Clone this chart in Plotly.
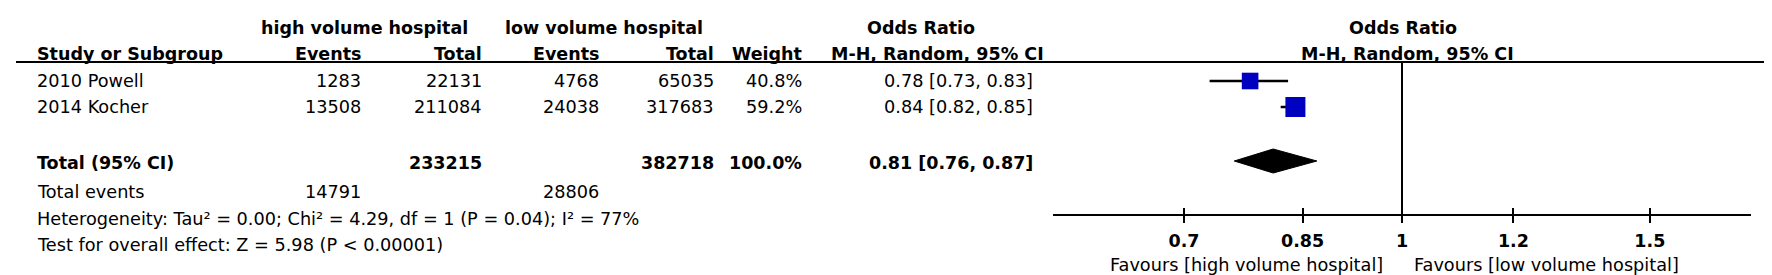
import math
import plotly.graph_objects as go

# ---------------- data ----------------
studies = ["2010 Powell", "2014 Kocher"]
hv_events = [1283, 13508]
hv_total = [22131, 211084]
lv_events = [4768, 24038]
lv_total = [65035, 317683]
weights = [40.8, 59.2]
or_est = [0.78, 0.84]
or_lo = [0.73, 0.82]
or_hi = [0.83, 0.85]

total_label = "Total (95% CI)"
total_hv = 233215
total_lv = 382718
total_weight = 100.0
total_or = 0.81
total_lo = 0.76
total_hi = 0.87
events_label = "Total events"
events_hv = 14791
events_lv = 28806
heterogeneity = "Heterogeneity: Tau² = 0.00; Chi² = 4.29, df = 1 (P = 0.04); I² = 77%"
overall = "Test for overall effect: Z = 5.98 (P < 0.00001)"

group1 = "high volume hospital"
group2 = "low volume hospital"
col_headers = ["Study or Subgroup", "Events", "Total", "Events", "Total", "Weight",
               "M-H, Random, 95% CI"]
tick_vals = [0.7, 0.85, 1, 1.2, 1.5]
tick_text = ["0.7", "0.85", "1", "1.2", "1.5"]
axis_range = [0.565, 1.77]
favours_left = "Favours [high volume hospital]"
favours_right = "Favours [low volume hospital]"

# ---------------- layout constants (pixels) ----------------
W, H = 1772, 275
FONT = "DejaVu Sans"
FS = 17.7
FSB = 17.5
Y_H1, Y_H2, Y_LINE = 20, 46, 54
Y_ROWS = [73, 99]
Y_TOT, Y_EV, Y_HET, Y_TEST = 155, 184, 211, 237
Y_AXIS = 207
X_STUDY, X_HVE, X_HVT, X_LVE, X_LVT, X_W, X_OR = 27, 355, 476, 593, 708, 796, 1027
X_AX0, X_AX1 = 1045, 1743
X_LINE0, X_LINE1 = 8, 1757
SQ_K = 20 / math.sqrt(59.2)
DIAMOND_H = 12
BLUE = "#0000c0"

fig = go.Figure()
ann = []


def txt(x, y, s, anchor="left", bold=False):
    ann.append(dict(
        x=x / W, y=y, xref="paper", yref="y", text=("<b>%s</b>" % s) if bold else s,
        showarrow=False, xanchor=anchor, yanchor="middle",
        font=dict(family=FONT, size=FSB if bold else FS, color="black")))


# headers
txt(356, Y_H1, group1, "center", True)
txt(596, Y_H1, group2, "center", True)
txt(913, Y_H1, "Odds Ratio", "center", True)
txt(1395, Y_H1, "Odds Ratio", "center", True)
txt(X_STUDY, Y_H2, col_headers[0], "left", True)
for x, h in zip([X_HVE, X_HVT, X_LVE, X_LVT, X_W], col_headers[1:6]):
    txt(x, Y_H2, h, "right", True)
txt(929, Y_H2, col_headers[6], "center", True)
txt(1399, Y_H2, col_headers[6], "center", True)

# study rows
for i, s in enumerate(studies):
    y = Y_ROWS[i]
    txt(X_STUDY, y, s)
    txt(X_HVE, y, str(hv_events[i]), "right")
    txt(X_HVT, y, str(hv_total[i]), "right")
    txt(X_LVE, y, str(lv_events[i]), "right")
    txt(X_LVT, y, str(lv_total[i]), "right")
    txt(X_W, y, "%.1f%%" % weights[i], "right")
    txt(X_OR, y, "%.2f [%.2f, %.2f]" % (or_est[i], or_lo[i], or_hi[i]), "right")

# total rows
txt(X_STUDY, Y_TOT, total_label, "left", True)
txt(X_HVT, Y_TOT, str(total_hv), "right", True)
txt(X_LVT, Y_TOT, str(total_lv), "right", True)
txt(X_W, Y_TOT, "%.1f%%" % total_weight, "right", True)
txt(X_OR, Y_TOT, "%.2f [%.2f, %.2f]" % (total_or, total_lo, total_hi), "right", True)
txt(X_STUDY, Y_EV, events_label)
txt(X_HVE, Y_EV, str(events_hv), "right")
txt(X_LVE, Y_EV, str(events_lv), "right")
txt(X_STUDY, Y_HET, heterogeneity)
txt(X_STUDY, Y_TEST, overall)

# favours labels
txt(1377, 257, favours_left, "right")
txt(1404, 257, favours_right, "left")

# ---------------- forest plot ----------------
# line of no effect
fig.add_trace(go.Scatter(x=[1, 1], y=[Y_LINE, Y_AXIS], mode="lines",
                         line=dict(color="black", width=2), hoverinfo="skip"))
# study estimates
fig.add_trace(go.Scatter(
    x=or_est, y=Y_ROWS, mode="markers",
    marker=dict(symbol="square", color=BLUE, opacity=1,
                size=[SQ_K * math.sqrt(w) for w in weights], line=dict(width=0)),
    error_x=dict(type="data", symmetric=False,
                 array=[h - e for h, e in zip(or_hi, or_est)],
                 arrayminus=[e - l for e, l in zip(or_est, or_lo)],
                 color="black", thickness=2.5, width=0),
    hoverinfo="skip"))
# pooled diamond
yd = Y_TOT - 2
fig.add_trace(go.Scatter(
    x=[total_lo, total_or, total_hi, total_or, total_lo],
    y=[yd, yd - DIAMOND_H, yd, yd + DIAMOND_H, yd],
    mode="lines", fill="toself", fillcolor="black", line=dict(color="black", width=1),
    hoverinfo="skip"))
# invisible trace for the overlay axis (ticks crossing the axis line)
fig.add_trace(go.Scatter(x=[1], y=[Y_AXIS], xaxis="x2", mode="markers",
                         marker=dict(opacity=0), hoverinfo="skip"))

lr = [math.log10(axis_range[0]), math.log10(axis_range[1])]
pos = (H - Y_AXIS) / H
common = dict(type="log", range=lr, domain=[X_AX0 / W, X_AX1 / W], anchor="free",
              position=pos, showgrid=False, zeroline=False, tickvals=tick_vals,
              tickwidth=2, ticklen=7, tickcolor="black", fixedrange=True)
fig.update_layout(
    width=W, height=H, margin=dict(l=0, r=0, t=0, b=0),
    paper_bgcolor="white", plot_bgcolor="white", showlegend=False,
    xaxis=dict(**common, ticktext=tick_text, ticks="outside", showline=True,
               linewidth=2, linecolor="black", ticklabelstandoff=3,
               tickfont=dict(family=FONT, size=FSB, color="black", weight="bold")),
    xaxis2=dict(**common, overlaying="x", ticks="inside", showticklabels=False,
                showline=False),
    yaxis=dict(range=[H, 0], domain=[0, 1], visible=False, fixedrange=True),
    annotations=ann,
    shapes=[dict(type="line", xref="paper", yref="y", x0=X_LINE0 / W, x1=X_LINE1 / W,
                 y0=Y_LINE, y1=Y_LINE, line=dict(color="black", width=2))],
)

fig.write_html("out.html")
